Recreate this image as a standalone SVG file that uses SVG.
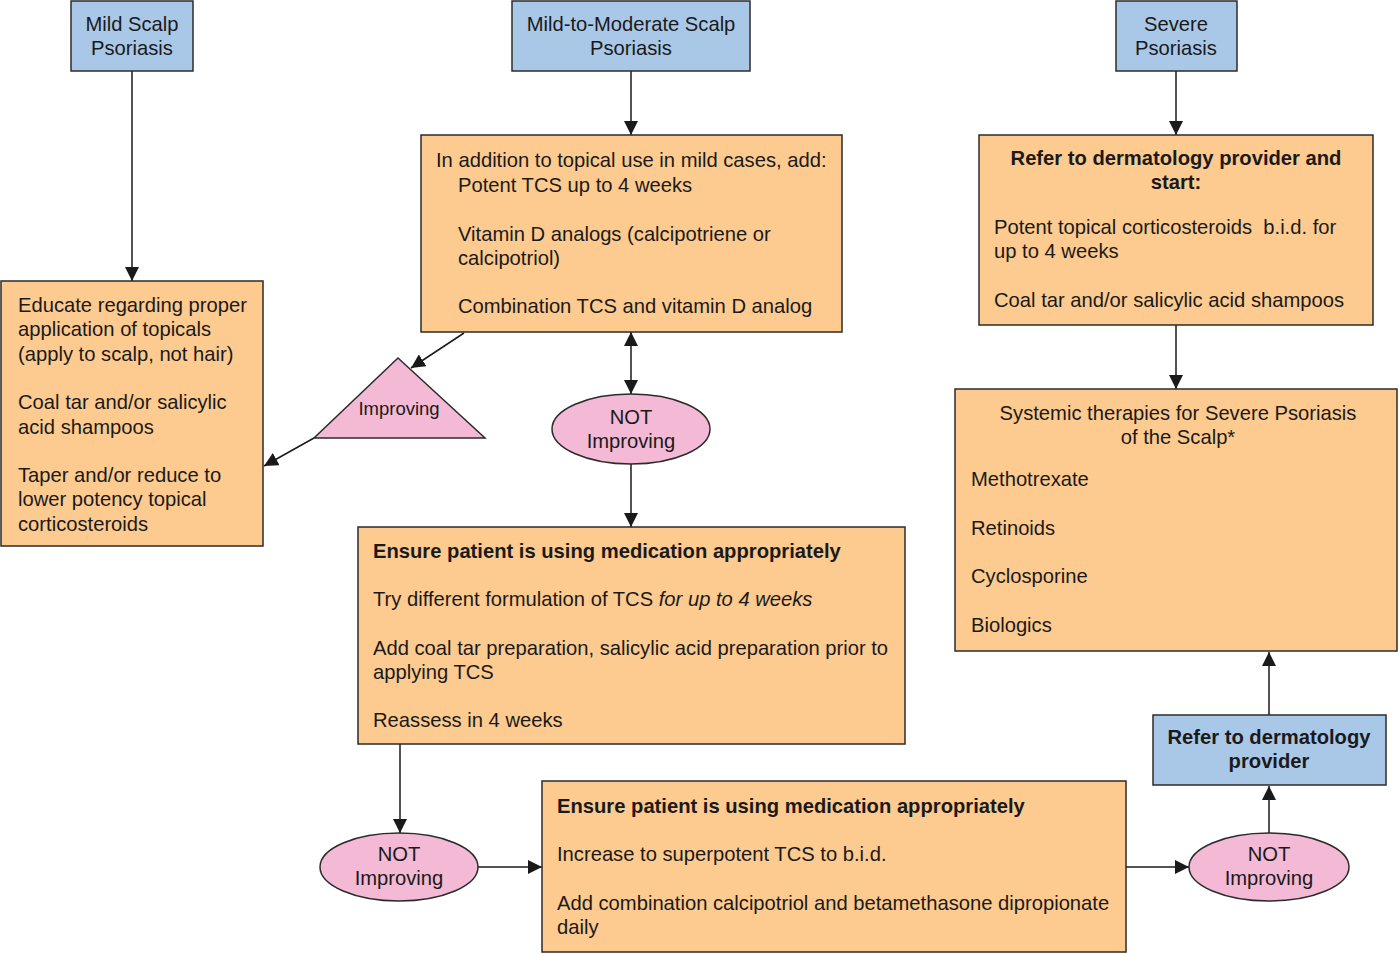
<svg xmlns="http://www.w3.org/2000/svg" width="1400" height="954" viewBox="0 0 1400 954">
<defs>
<style>
.blue{fill:#a9c8e8;stroke:#2b2b2b;stroke-width:1.5}
.org{fill:#fdca90;stroke:#2b2b2b;stroke-width:1.5}
.pink{fill:#f3b9d5;stroke:#2b2b2b;stroke-width:1.5}
text{font-family:"Liberation Sans",Arial,sans-serif;font-size:20.2px;fill:#1a1a1a}
.c{text-anchor:middle}
.b{font-weight:bold}
.con{stroke:#1a1a1a;stroke-width:1.5;fill:none}
</style>
<marker id="ah" markerUnits="userSpaceOnUse" markerWidth="14" markerHeight="14" viewBox="0 0 14 14" refX="14" refY="7" orient="auto-start-reverse">
<path d="M0,0 L14,7 L0,14 Z" fill="#1a1a1a"/>
</marker>
</defs>
<rect width="1400" height="954" fill="#ffffff"/>

<g id="connectors">
<line class="con" x1="132" y1="71" x2="132" y2="281" marker-end="url(#ah)"/>
<line class="con" x1="631" y1="71" x2="631" y2="135" marker-end="url(#ah)"/>
<line class="con" x1="1176" y1="71" x2="1176" y2="135" marker-end="url(#ah)"/>
<line class="con" x1="1176" y1="325" x2="1176" y2="389" marker-end="url(#ah)"/>
<line class="con" x1="464" y1="333" x2="411" y2="368" marker-end="url(#ah)"/>
<line class="con" x1="314" y1="438" x2="264" y2="466" marker-end="url(#ah)"/>
<line class="con" x1="631" y1="332" x2="631" y2="394" marker-start="url(#ah)" marker-end="url(#ah)"/>
<line class="con" x1="631" y1="464" x2="631" y2="527" marker-end="url(#ah)"/>
<line class="con" x1="400" y1="744" x2="400" y2="833" marker-end="url(#ah)"/>
<line class="con" x1="478" y1="867" x2="542" y2="867" marker-end="url(#ah)"/>
<line class="con" x1="1126" y1="867" x2="1189" y2="867" marker-end="url(#ah)"/>
<line class="con" x1="1269" y1="833" x2="1269" y2="786" marker-end="url(#ah)"/>
<line class="con" x1="1269" y1="715" x2="1269" y2="652" marker-end="url(#ah)"/>
</g>

<g id="mild">
<rect class="blue" x="71" y="1" width="122" height="70"/>
<text class="c" x="132" y="31">Mild Scalp</text>
<text class="c" x="132" y="55">Psoriasis</text>
</g>

<g id="mildmod">
<rect class="blue" x="512" y="1" width="238" height="70"/>
<text class="c" x="631" y="31">Mild-to-Moderate Scalp</text>
<text class="c" x="631" y="55">Psoriasis</text>
</g>

<g id="severe">
<rect class="blue" x="1116" y="1" width="121" height="70"/>
<text class="c" x="1176" y="31">Severe</text>
<text class="c" x="1176" y="55">Psoriasis</text>
</g>

<g id="educate">
<rect class="org" x="1" y="281" width="262" height="265"/>
<text x="18" y="312">Educate regarding proper</text>
<text x="18" y="336">application of topicals</text>
<text x="18" y="361">(apply to scalp, not hair)</text>
<text x="18" y="409">Coal tar and/or salicylic</text>
<text x="18" y="434">acid shampoos</text>
<text x="18" y="482">Taper and/or reduce to</text>
<text x="18" y="506">lower potency topical</text>
<text x="18" y="531">corticosteroids</text>
</g>

<g id="addition">
<rect class="org" x="421" y="135" width="421" height="197"/>
<text x="436" y="167">In addition to topical use in mild cases, add:</text>
<text x="458" y="192">Potent TCS up to 4 weeks</text>
<text x="458" y="241">Vitamin D analogs (calcipotriene or</text>
<text x="458" y="265">calcipotriol)</text>
<text x="458" y="313">Combination TCS and vitamin D analog</text>
</g>

<g id="refer1">
<rect class="org" x="979" y="135" width="394" height="190"/>
<text class="c b" x="1176" y="165">Refer to dermatology provider and</text>
<text class="c b" x="1176" y="189">start:</text>
<text x="994" y="234">Potent topical corticosteroids&#160; b.i.d. for</text>
<text x="994" y="258">up to 4 weeks</text>
<text x="994" y="307">Coal tar and/or salicylic acid shampoos</text>
</g>

<g id="systemic">
<rect class="org" x="955" y="389" width="442" height="262"/>
<text class="c" x="1178" y="420">Systemic therapies for Severe Psoriasis</text>
<text class="c" x="1178" y="444">of the Scalp*</text>
<text x="971" y="486">Methotrexate</text>
<text x="971" y="535">Retinoids</text>
<text x="971" y="583">Cyclosporine</text>
<text x="971" y="632">Biologics</text>
</g>

<g id="improving">
<polygon class="pink" points="398,358 485,438 314,438"/>
<text class="c" x="399" y="415" style="font-size:18.5px">Improving</text>
</g>

<g id="notimp1">
<ellipse class="pink" cx="631" cy="429" rx="79" ry="35"/>
<text class="c" x="631" y="424">NOT</text>
<text class="c" x="631" y="448">Improving</text>
</g>

<g id="ensure1">
<rect class="org" x="358" y="527" width="547" height="217"/>
<text class="b" x="373" y="558">Ensure patient is using medication appropriately</text>
<text x="373" y="606">Try different formulation of TCS <tspan font-style="italic">for up to 4 weeks</tspan></text>
<text x="373" y="655">Add coal tar preparation, salicylic acid preparation prior to</text>
<text x="373" y="679">applying TCS</text>
<text x="373" y="727">Reassess in 4 weeks</text>
</g>

<g id="notimp2">
<ellipse class="pink" cx="399" cy="867" rx="79" ry="34"/>
<text class="c" x="399" y="861">NOT</text>
<text class="c" x="399" y="885">Improving</text>
</g>

<g id="ensure2">
<rect class="org" x="542" y="781" width="584" height="171"/>
<text class="b" x="557" y="813">Ensure patient is using medication appropriately</text>
<text x="557" y="861">Increase to superpotent TCS to b.i.d.</text>
<text x="557" y="910">Add combination calcipotriol and betamethasone dipropionate</text>
<text x="557" y="934">daily</text>
</g>

<g id="notimp3">
<ellipse class="pink" cx="1269" cy="867" rx="80" ry="34"/>
<text class="c" x="1269" y="861">NOT</text>
<text class="c" x="1269" y="885">Improving</text>
</g>

<g id="refer2">
<rect class="blue" x="1153" y="715" width="233" height="70"/>
<text class="c b" x="1269" y="744">Refer to dermatology</text>
<text class="c b" x="1269" y="768">provider</text>
</g>
</svg>
